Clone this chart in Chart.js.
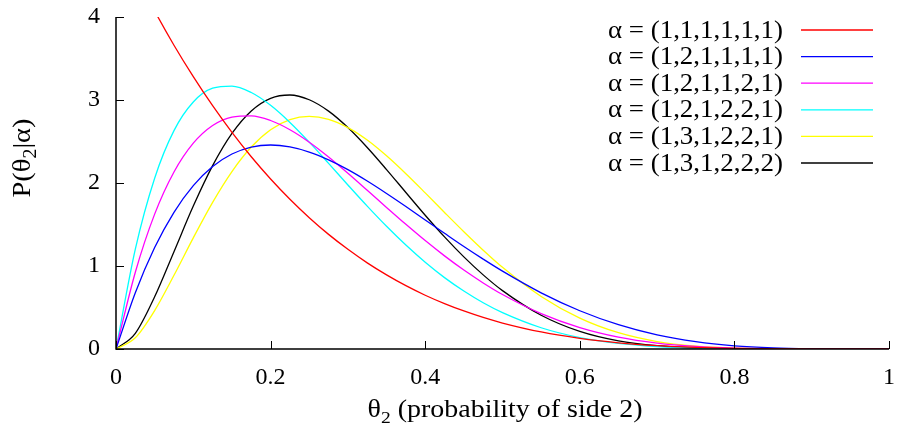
<!DOCTYPE html>
<html>
<head>
<meta charset="utf-8">
<script src="https://cdn.jsdelivr.net/npm/chart.js@4"></script>
<style>
  body { margin: 0; background: #fff; }
  #wrap { width: 897px; height: 425px; }
</style>
</head>
<body>
<div id="wrap"><canvas id="betaCanvas"></canvas></div>
<script>
// theta_2 positions where the curves were read
const thetas = [0, 0.025, 0.05, 0.075, 0.1, 0.125, 0.15, 0.175, 0.2, 0.225, 0.25, 0.275, 0.3, 0.325, 0.35, 0.375, 0.4, 0.425, 0.45, 0.475, 0.5, 0.55, 0.6, 0.65, 0.7, 0.75, 0.8, 0.85, 0.9, 0.95, 1];

const alpha111111 = [5, 4.518, 4.073, 3.660, 3.281, 2.931, 2.610, 2.316, 2.048, 1.804, 1.582, 1.381, 1.201, 1.038, 0.893, 0.763, 0.648, 0.547, 0.458, 0.380, 0.313, 0.205, 0.128, 0.075, 0.041, 0.020, 0.008, 0.003, 0.0005, 0, 0];
const alpha121111 = [0, 0.678, 1.222, 1.647, 1.968, 2.198, 2.349, 2.432, 2.458, 2.435, 2.373, 2.279, 2.161, 2.024, 1.874, 1.717, 1.555, 1.394, 1.235, 1.083, 0.938, 0.677, 0.461, 0.293, 0.170, 0.088, 0.038, 0.013, 0.003, 0.0002, 0];
const alpha121121 = [0, 0.925, 1.625, 2.133, 2.480, 2.693, 2.795, 2.809, 2.753, 2.642, 2.492, 2.314, 2.118, 1.913, 1.706, 1.502, 1.306, 1.122, 0.951, 0.796, 0.656, 0.426, 0.258, 0.143, 0.071, 0.031, 0.011, 0.003, 0.0004, 0, 0];
const alpha121221 = [0, 1.203, 2.058, 2.631, 2.976, 3.142, 3.168, 3.090, 2.936, 2.730, 2.492, 2.236, 1.976, 1.721, 1.478, 1.252, 1.045, 0.860, 0.698, 0.557, 0.438, 0.256, 0.138, 0.067, 0.029, 0.010, 0.003, 0.0005, 0.0001, 0, 0];
const alpha131221 = [0, 0.135, 0.463, 0.888, 1.339, 1.767, 2.138, 2.433, 2.642, 2.764, 2.803, 2.768, 2.668, 2.518, 2.328, 2.112, 1.881, 1.645, 1.413, 1.191, 0.984, 0.633, 0.372, 0.196, 0.090, 0.035, 0.010, 0.002, 0.0002, 0, 0];
const alpha131222 = [0, 0.189, 0.629, 1.173, 1.722, 2.209, 2.597, 2.868, 3.020, 3.060, 3.003, 2.866, 2.668, 2.428, 2.162, 1.886, 1.612, 1.351, 1.110, 0.893, 0.703, 0.407, 0.212, 0.098, 0.039, 0.012, 0.003, 0.0004, 0, 0, 0];

const seriesLabels = ["α = (1,1,1,1,1,1)", "α = (1,2,1,1,1,1)", "α = (1,2,1,1,2,1)", "α = (1,2,1,2,2,1)", "α = (1,3,1,2,2,1)", "α = (1,3,1,2,2,2)"];
const seriesValues = [alpha111111, alpha121111, alpha121121, alpha121221, alpha131221, alpha131222];
const seriesColors = ["#ff0000", "#0000ff", "#ff00ff", "#00ffff", "#ffff00", "#000000"];

const xTicks = [0, 0.2, 0.4, 0.6, 0.8, 1];
const yTicks = [0, 1, 2, 3, 4];

const serif = "'Liberation Serif', 'Times New Roman', serif";

function partsWidth(ctx, parts, size) {
  let w = 0;
  parts.forEach(p => {
    ctx.font = (p[1] ? size * 0.7 : size) + "px " + serif;
    w += ctx.measureText(p[0]).width;
  });
  return w;
}

// text pieces, [text, isSubscript]; stretched sideways to the given width
function drawParts(ctx, parts, x, y, size, width, align) {
  const natural = partsWidth(ctx, parts, size);
  const k = width / natural;
  ctx.save();
  ctx.translate(align === "right" ? x - width : x - width / 2, y);
  ctx.scale(k, 1);
  ctx.textAlign = "left";
  let cx = 0;
  parts.forEach(p => {
    ctx.font = (p[1] ? size * 0.7 : size) + "px " + serif;
    ctx.fillText(p[0], cx, p[1] ? size * 0.22 : 0);
    cx += ctx.measureText(p[0]).width;
  });
  ctx.restore();
}

const gnuplotLook = {
  id: "gnuplotLook",
  afterDraw(chart) {
    const ctx = chart.ctx;
    const xs = chart.scales.x, ys = chart.scales.y;
    const a = chart.chartArea;
    ctx.save();
    ctx.strokeStyle = "#000";
    ctx.lineWidth = 1.5;
    ctx.beginPath();
    ctx.moveTo(a.left, a.top);
    ctx.lineTo(a.left, a.bottom);
    ctx.lineTo(a.right, a.bottom);
    ctx.stroke();
    // inward ticks
    ctx.lineWidth = 1;
    ctx.beginPath();
    yTicks.forEach(v => {
      const py = Math.round(ys.getPixelForValue(v)) + 0.5;
      ctx.moveTo(a.left, py);
      ctx.lineTo(a.left + 8, py);
    });
    xTicks.forEach(v => {
      const px = Math.round(xs.getPixelForValue(v)) + 0.5;
      ctx.moveTo(px, a.bottom);
      ctx.lineTo(px, a.bottom - 8);
    });
    ctx.stroke();

    // axis titles
    ctx.fillStyle = "#000";
    ctx.textBaseline = "alphabetic";
    drawParts(ctx, [["θ", false], ["2", true], [" (probability of side 2)", false]], 505, 417, 25, 275);
    ctx.save();
    ctx.translate(30, 158);
    ctx.rotate(-Math.PI / 2);
    drawParts(ctx, [["P(θ", false], ["2", true], ["|α)", false]], 0, 0, 26, 79);
    ctx.restore();

    // legend
    ctx.textBaseline = "middle";
    seriesLabels.forEach((lab, i) => {
      const y = 30 + i * 26.6;
      drawParts(ctx, [[lab, false]], 783, y + 1, 25, 175, "right");
      ctx.strokeStyle = seriesColors[i];
      ctx.lineWidth = 1.3;
      ctx.beginPath();
      ctx.moveTo(801, y);
      ctx.lineTo(873, y);
      ctx.stroke();
    });
    ctx.restore();
  }
};

new Chart(document.getElementById("betaCanvas"), {
  type: "line",
  data: {
    datasets: seriesValues.map((vals, i) => ({
      label: seriesLabels[i],
      data: thetas.map((t, j) => ({ x: t, y: vals[j] })),
      borderColor: seriesColors[i],
      borderWidth: 1.3,
      pointRadius: 0,
      fill: false,
      cubicInterpolationMode: "monotone"
    }))
  },
  options: {
    responsive: true,
    maintainAspectRatio: false,
    animation: false,
    events: [],
    layout: { padding: { left: 0, right: 8, top: 17, bottom: 0 } },
    plugins: { legend: { display: false }, tooltip: { enabled: false } },
    scales: {
      x: {
        type: "linear",
        min: 0,
        max: 1,
        afterFit: s => { s.height = 76; s.paddingLeft = 0; s.paddingRight = 0; },
        afterBuildTicks: s => { s.ticks = xTicks.map(v => ({ value: v })); },
        grid: { display: false, drawTicks: false },
        border: { display: false },
        ticks: {
          color: "#000",
          font: { family: serif, size: 24 },
          padding: 14,
          maxRotation: 0,
          callback: v => String(v)
        }
      },
      y: {
        min: 0,
        max: 4,
        afterFit: s => { s.width = 116; s.paddingTop = 0; s.paddingBottom = 0; },
        afterBuildTicks: s => { s.ticks = yTicks.map(v => ({ value: v })); },
        grid: { display: false, drawTicks: false },
        border: { display: false },
        ticks: {
          color: "#000",
          font: { family: serif, size: 24 },
          padding: 16,
          callback: v => String(v)
        }
      }
    }
  },
  plugins: [gnuplotLook]
});
</script>
</body>
</html>
